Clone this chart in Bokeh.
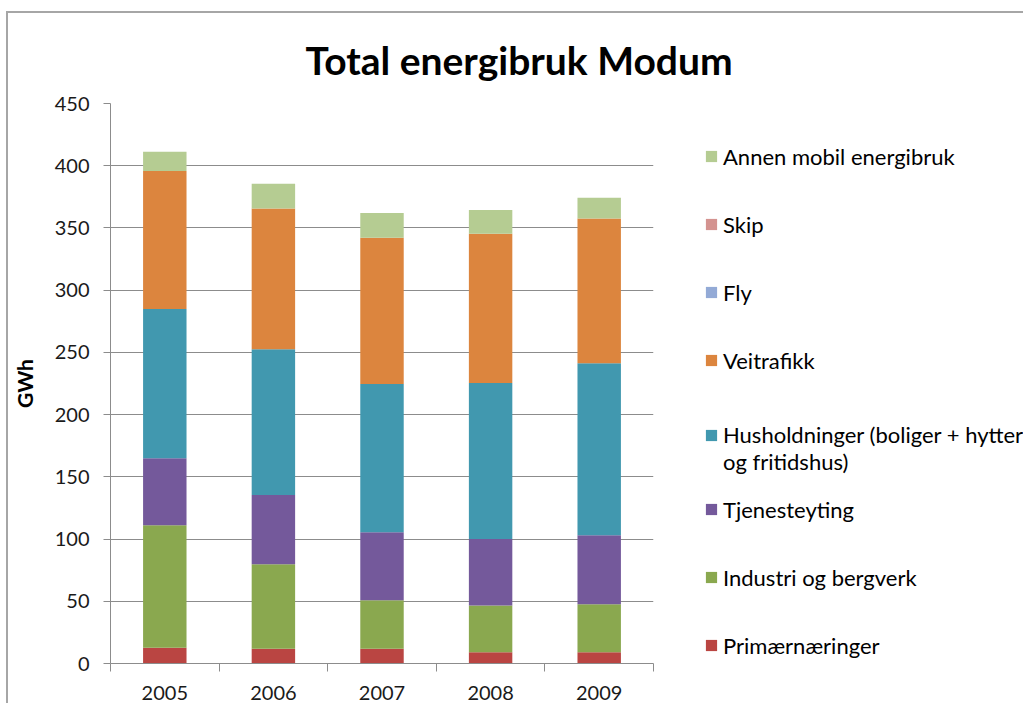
from bokeh.plotting import figure
from bokeh.models import (Range1d, FixedTicker, SingleIntervalTicker, Legend, LegendItem,
                          Title, ColumnDataSource)
from bokeh.embed import file_html
from bokeh.resources import INLINE

years = ["2005", "2006", "2007", "2008", "2009"]
primaer = [12.6, 11.8, 11.8, 9.1, 9.1]
industri = [98.5, 68.0, 39.1, 37.5, 38.5]
tjeneste = [53.8, 55.7, 54.6, 53.5, 55.4]
husholdninger = [120.0, 117.0, 119.1, 125.3, 138.2]
veitrafikk = [110.8, 113.2, 117.5, 119.9, 116.4]
fly = [0, 0, 0, 0, 0]
skip = [0, 0, 0, 0, 0]
annen = [15.5, 19.8, 19.9, 19.1, 16.6]

series_names = ["Primærnæringer", "Industri og bergverk", "Tjenesteyting",
                "\nHusholdninger (boliger + hytter\nog fritidshus)", "Veitrafikk", "Fly", "Skip",
                "Annen mobil energibruk"]
series_vals = [primaer, industri, tjeneste, husholdninger, veitrafikk, fly, skip, annen]
colors = ["#BA4542", "#8AA84F", "#74599B", "#4198AF", "#DC853E", "#93AAD6", "#D49390", "#B5CC92"]

keys = ["s%d" % i for i in range(len(series_vals))]
xs = [i + 0.5 for i in range(len(years))]
data = {"x": xs}
for k, v in zip(keys, series_vals):
    data[k] = v
source = ColumnDataSource(data)

FONT = "Lato"
GRAY = "#8c8c8c"

p = figure(frame_width=543, frame_height=560,
           min_border_left=102, min_border_right=362, min_border_top=90, min_border_bottom=40,
           x_range=Range1d(0, len(years)), y_range=Range1d(0, 450),
           output_backend="svg", toolbar_location=None)
p.styles = {"border-top": "2px solid #a6a6a6", "border-left": "2px solid #a6a6a6"}
p.margin = (11, 0, 0, 6)
p.title = Title(text="Total energibruk Modum", align="left", offset=195,
                text_font=FONT, text_font_size="39px", text_font_style="bold",
                text_color="#000000", standoff=42)

renderers = p.vbar_stack(keys, x="x", width=0.4, source=source, color=colors,
                         line_color=None)

# axes
p.xaxis.ticker = FixedTicker(ticks=xs, minor_ticks=list(range(len(years) + 1)))
p.xaxis.major_label_overrides = {x: y for x, y in zip(xs, years)}
p.xaxis.major_tick_out = 0
p.xaxis.major_tick_in = 0
p.xaxis.minor_tick_out = 8
p.xaxis.minor_tick_in = 0
p.xaxis.minor_tick_line_color = GRAY
p.xaxis.axis_line_color = GRAY
p.xaxis.major_label_standoff = 14
p.xaxis.major_label_text_font = FONT
p.xaxis.major_label_text_font_size = "20px"
p.xaxis.major_label_text_color = "#1a1a1a"

p.yaxis.ticker = SingleIntervalTicker(interval=50)
p.yaxis.minor_tick_line_color = None
p.yaxis.major_tick_out = 7
p.yaxis.major_tick_in = 0
p.yaxis.major_tick_line_color = GRAY
p.yaxis.axis_line_color = GRAY
p.yaxis.major_label_standoff = 14
p.yaxis.major_label_text_font = FONT
p.yaxis.major_label_text_font_size = "20px"
p.yaxis.major_label_text_color = "#1a1a1a"
p.yaxis.axis_label = "GWh"
p.yaxis.axis_label_text_font = FONT
p.yaxis.axis_label_text_font_size = "21px"
p.yaxis.axis_label_text_font_style = "bold"
p.yaxis.axis_label_text_color = "#000000"
p.yaxis.axis_label_standoff = 15

p.xgrid.grid_line_color = None
p.ygrid.grid_line_color = GRAY
p.ygrid.ticker = SingleIntervalTicker(interval=50)
p.outline_line_color = None
p.background_fill_color = "white"
p.border_fill_color = "white"

items = [LegendItem(label=n, renderers=[r]) for n, r in zip(series_names, renderers)]
items = items[::-1]
legend = Legend(items=items, location=(51, -16), orientation="vertical",
                label_text_font=FONT, label_text_font_size="22px", label_text_color="#000000",
                glyph_width=14, glyph_height=14, label_height=68, spacing=0,
                padding=0, margin=0, border_line_color=None, background_fill_alpha=0,
                label_standoff=5)
p.add_layout(legend, "right")

open("out.html", "w").write(file_html(p, INLINE))
